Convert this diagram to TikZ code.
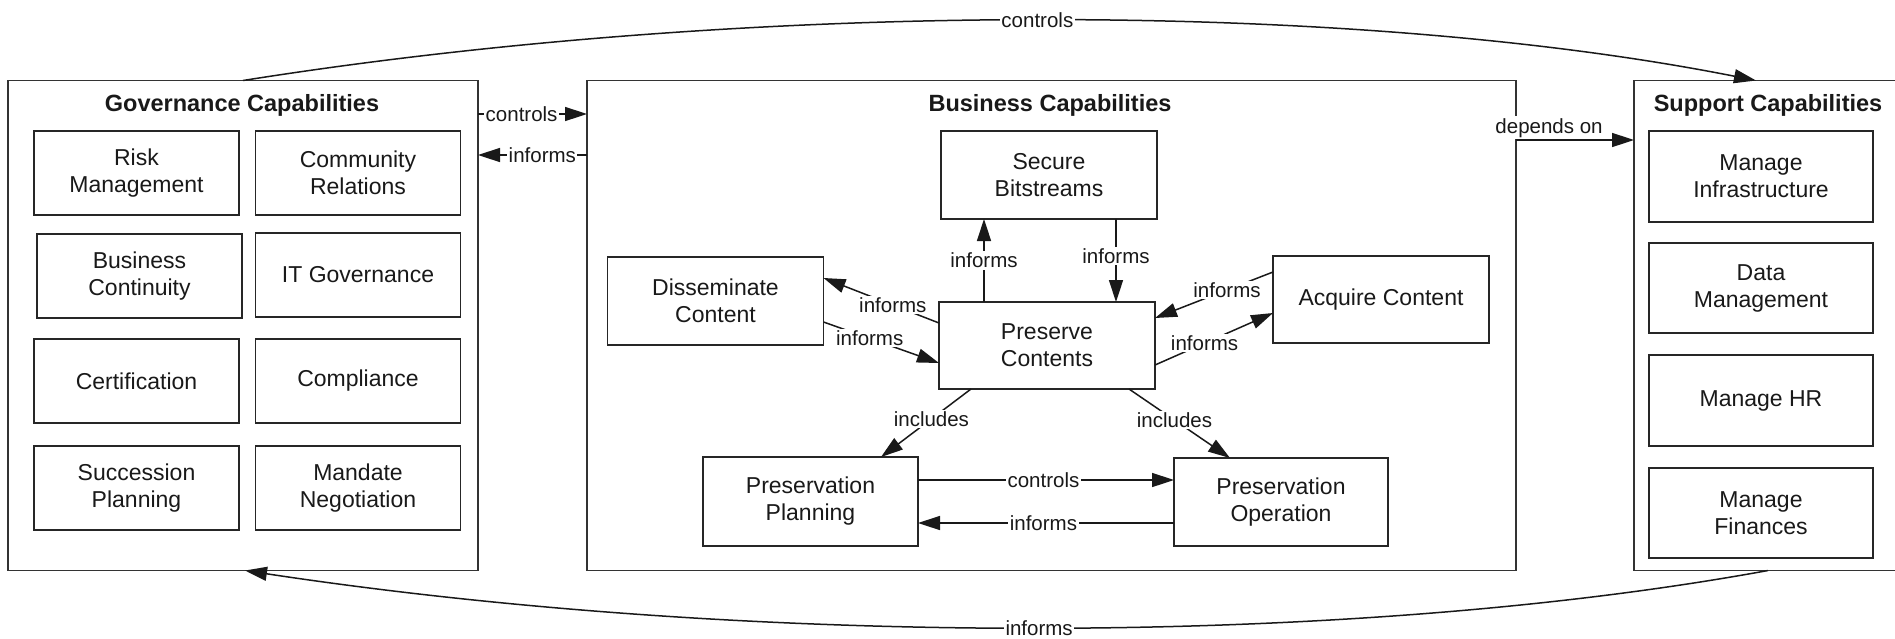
\documentclass[tikz,border=0pt]{standalone}
\usepackage{fontspec}
\setmainfont{Liberation Sans}
\usetikzlibrary{arrows.meta}
\begin{document}
\begin{tikzpicture}[x=1pt,y=-1pt,
  box/.style={draw=black!85, line width=1.5pt, inner sep=0pt, outer sep=0pt, align=center,
    font=\fontsize{23}{27}\selectfont, text=black!90},
  gbox/.style={box, minimum width=205pt, minimum height=84pt},
  bbox/.style={box, minimum width=216pt, minimum height=88pt},
  sbox/.style={box, minimum width=224pt, minimum height=90pt},
  cont/.style={draw=black!80, line width=1.5pt, inner sep=0pt, outer sep=0pt, minimum height=490pt},
  ttl/.style={font=\bfseries\fontsize{23.5}{28}\selectfont, text=black!90, inner sep=0pt},
  arr/.style={line width=1.5pt, draw=black!90, -{Triangle[length=22pt,width=14pt]}},
  lbl/.style={fill=white, inner sep=1.5pt, font=\fontsize{20.5}{24}\selectfont, text=black!90},
]
\useasboundingbox (0,0) rectangle (1895,638);
\fill[white] (0,0) rectangle (1895,638);

% containers
\node[cont, minimum width=470pt] (gov) at (243,325.5) {};
\node[cont, minimum width=929pt] (bus) at (1051.5,325.5) {};
\node[cont, minimum width=262pt] (sup) at (1765,325.5) {};

\node[ttl] (govt) at (242,105) {Governance Capabilities};
\node[ttl] (bust) at (1050,105) {Business Capabilities};
\node[ttl] (supt) at (1768,105) {Support Capabilities};

% governance
\node[gbox] (risk) at (136.5,173) {Risk\\Management};
\node[gbox] (comm) at (358,173) {Community\\Relations};
\node[gbox] (bcont) at (139.5,276) {Business\\Continuity};
\node[gbox] (itgov) at (358,275) {IT Governance};
\node[gbox] (cert) at (136.5,381) {Certification};
\node[gbox] (compl) at (358,381) {Compliance};
\node[gbox] (succ) at (136.5,488) {Succession\\Planning};
\node[gbox] (mand) at (358,488) {Mandate\\Negotiation};

% business
\node[bbox] (sec) at (1049,175) {Secure\\Bitstreams};
\node[bbox] (diss) at (715.5,301) {Disseminate\\Content};
\node[bbox, minimum height=87pt] (pres) at (1047,345.5) {Preserve\\Contents};
\node[bbox, minimum height=87pt] (acq) at (1381,299.5) {Acquire Content};
\node[bbox, minimum width=215pt, minimum height=89pt] (pp) at (810.5,501.5) {Preservation\\Planning};
\node[bbox, minimum width=214pt] (po) at (1281,502) {Preservation\\Operation};

% support
\node[sbox, minimum height=91pt] (infra) at (1761,176.5) {Manage\\Infrastructure};
\node[sbox] (data) at (1761,288) {Data\\Management};
\node[sbox, minimum height=91pt] (hr) at (1761,400.5) {Manage HR};
\node[sbox] (fin) at (1761,513) {Manage\\Finances};

% governance <-> business
\draw[arr] ([yshift=211.5pt]gov.east) -- ([yshift=211.5pt]bus.west)
  node[lbl, pos=0.4] (l1) {controls};
\draw[arr] ([yshift=170.5pt]bus.west) -- ([yshift=170.5pt]gov.east)
  node[lbl, pos=0.41] (l2) {informs};

% business -> support
\draw[arr] ([yshift=185.5pt]bus.east) -- ([yshift=185.5pt]sup.west)
  node[lbl, pos=0.28, above, inner sep=2pt] (l3) {depends on};

% secure <-> preserve
\draw[arr] ([xshift=-63pt]pres.north) -- ([xshift=-65pt]sec.south)
  node[lbl, pos=0.5] (l4) {informs};
\draw[arr] ([xshift=67pt]sec.south) -- ([xshift=69pt]pres.north)
  node[lbl, pos=0.45] (l5) {informs};

% disseminate <-> preserve
\draw[arr] ([yshift=22.5pt]pres.west) -- ([yshift=23pt]diss.east)
  node[lbl, pos=0.4] (l6) {informs};
\draw[arr] ([yshift=-21pt]diss.east) -- ([yshift=-17.5pt]pres.west)
  node[lbl, pos=0.4] (l7) {informs};

% acquire <-> preserve
\draw[arr] ([yshift=27.5pt]acq.west) -- ([yshift=27.5pt]pres.east)
  node[lbl, pos=0.39] (l8) {informs};
\draw[arr] ([yshift=-19.5pt]pres.east) -- ([yshift=-13.5pt]acq.west)
  node[lbl, pos=0.42] (l9) {informs};

% includes
\draw[arr] ([xshift=-76pt]pres.south) -- ([xshift=70.5pt]pp.north)
  node[lbl, pos=0.44] (l10) {includes};
\draw[arr] ([xshift=82pt]pres.south) -- ([xshift=-51pt]po.north)
  node[lbl, pos=0.45] (l11) {includes};

% planning <-> operation
\draw[arr] ([yshift=21.5pt]pp.east) -- ([yshift=22pt]po.west)
  node[lbl, pos=0.49] (l12) {controls};
\draw[arr] ([yshift=-21pt]po.west) -- ([yshift=-21.5pt]pp.east)
  node[lbl, pos=0.51] (l13) {informs};

% outer curves
\draw[arr] (gov.north) .. controls (750,0) and (1350,0) .. ([xshift=-9pt]sup.north)
  node[lbl, pos=0.5] (l14) {controls};
\draw[arr] ([xshift=3pt]sup.south) .. controls (1350,647) and (750,647) .. ([xshift=2pt]gov.south)
  node[lbl, pos=0.5] (l15) {informs};
\end{tikzpicture}
\end{document}
